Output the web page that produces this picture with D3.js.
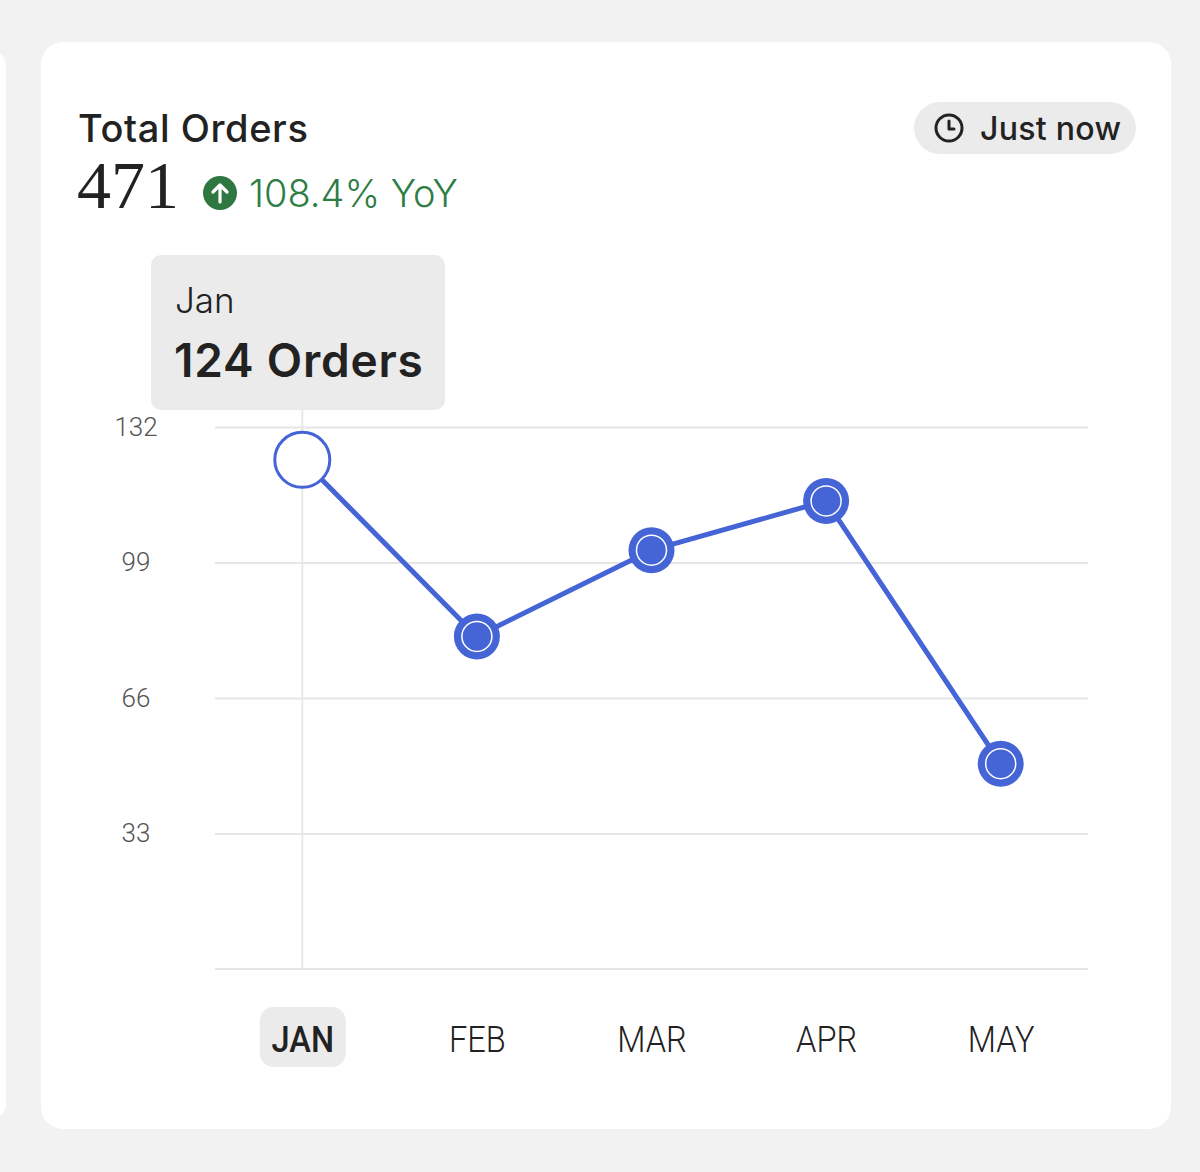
<!DOCTYPE html>
<html>
<head>
<meta charset="utf-8">
<script src="https://cdn.jsdelivr.net/npm/d3@7"></script>
<style>
  body { margin: 0; background: #f2f2f2; }
  svg { display: block; }
</style>
</head>
<body>
<div id="chart"></div>
<script>
// data
var months = ["JAN", "FEB", "MAR", "APR", "MAY"];
var monthNames = ["Jan", "Feb", "Mar", "Apr", "May"];
var orders = [124, 81, 102, 114, 50];
var yTicks = [33, 66, 99, 132];
var total = 471;
var yoy = "108.4% YoY";
var active = 0;

var w = 1200, h = 1172;
var blue = "#4564d6";

var svg = d3.select("#chart").append("svg")
  .attr("width", w)
  .attr("height", h);

// cards
svg.append("rect").attr("x", -30).attr("y", 50).attr("width", 36).attr("height", 1070)
  .attr("rx", 16).attr("fill", "#fff");
svg.append("rect").attr("x", 41).attr("y", 42).attr("width", 1130).attr("height", 1087)
  .attr("rx", 22).attr("fill", "#fff");

// header
svg.append("text").attr("x", 78).attr("y", 142)
  .attr("font-family", "Inter, Roboto, sans-serif").attr("font-weight", 500)
  .attr("font-size", 38).attr("letter-spacing", 0.6).attr("fill", "#222").text("Total Orders");
svg.append("text").attr("x", 77).attr("y", 208)
  .attr("font-family", "'Liberation Serif', 'DejaVu Serif', serif")
  .attr("font-size", 68).attr("fill", "#222").text(total);

var badge = svg.append("g").attr("transform", "translate(220,193)");
badge.append("circle").attr("r", 17).attr("fill", "#2e7740");
badge.append("path").attr("d", "M0,9V-8M-7,-1L0,-8L7,-1")
  .attr("stroke", "#fff").attr("stroke-width", 3.2).attr("fill", "none")
  .attr("stroke-linecap", "round").attr("stroke-linejoin", "round");
svg.append("text").attr("x", 249).attr("y", 207)
  .attr("font-family", "Inter, Roboto, sans-serif").attr("font-weight", 300)
  .attr("font-size", 38).attr("fill", "#2e7d45").text(yoy);

// "just now" pill
svg.append("rect").attr("x", 914).attr("y", 102).attr("width", 222).attr("height", 52)
  .attr("rx", 26).attr("fill", "#ebebeb");
var clock = svg.append("g").attr("transform", "translate(949,128)");
clock.append("circle").attr("r", 13).attr("fill", "none").attr("stroke", "#222").attr("stroke-width", 3);
clock.append("path").attr("d", "M0,-7V1H5").attr("fill", "none").attr("stroke", "#222")
  .attr("stroke-width", 3).attr("stroke-linecap", "round").attr("stroke-linejoin", "round");
svg.append("text").attr("x", 980).attr("y", 140)
  .attr("font-family", "Inter, Roboto, sans-serif").attr("font-weight", 500)
  .attr("font-size", 32).attr("letter-spacing", 0.3).attr("fill", "#222").text("Just now");

// scales
var x = d3.scalePoint().domain(months).range([215, 1088]).padding(0.5);
var y = d3.scaleLinear().domain([0, 132]).range([969, 427]);

// grid
var yAxis = d3.axisLeft(y).tickValues(yTicks).tickSize(-(1088 - 215)).tickPadding(79);
var gy = svg.append("g").attr("transform", "translate(215,0)").call(yAxis);
gy.select(".domain").remove();
gy.selectAll(".tick line").attr("stroke", "#e6e6e6").attr("stroke-width", 2);
gy.selectAll(".tick text").attr("text-anchor", "middle")
  .attr("font-family", "Roboto, sans-serif").attr("font-weight", 300)
  .attr("font-size", 26).attr("fill", "#555");

svg.append("line").attr("x1", 215).attr("x2", 1088)
  .attr("y1", y(0)).attr("y2", y(0)).attr("stroke", "#e6e6e6").attr("stroke-width", 2);

// hover guide
svg.append("line").attr("x1", x(months[active])).attr("x2", x(months[active]))
  .attr("y1", 410).attr("y2", y(0)).attr("stroke", "#e8e8e8").attr("stroke-width", 2);

// x labels
var xAxis = d3.axisBottom(x).tickSize(0).tickPadding(0);
var gx = svg.append("g").attr("transform", "translate(0,1052)").call(xAxis);
gx.select(".domain").remove();
gx.selectAll(".tick").filter(function (d, i) { return i === active; })
  .insert("rect", "text").attr("x", -43).attr("y", -45).attr("width", 86).attr("height", 60)
  .attr("rx", 14).attr("fill", "#ebebeb");
gx.selectAll(".tick text").attr("dy", 0)
  .attr("font-family", "Roboto, sans-serif")
  .attr("font-weight", function (d, i) { return i === active ? 500 : 300; })
  .attr("font-size", 37).attr("fill", "#222")
  .attr("transform", "scale(0.88,1)");

// line
var line = d3.line().x(function (d, i) { return x(months[i]); }).y(function (d) { return y(d); });
svg.append("path").datum(orders).attr("d", line)
  .attr("fill", "none").attr("stroke", blue).attr("stroke-width", 5)
  .attr("stroke-linejoin", "round");

// points
var pts = svg.selectAll(".pt").data(orders).enter().append("g")
  .attr("transform", function (d, i) { return "translate(" + x(months[i]) + "," + y(d) + ")"; });
pts.filter(function (d, i) { return i !== active; }).each(function () {
  var g = d3.select(this);
  g.append("circle").attr("r", 23).attr("fill", blue);
  g.append("circle").attr("r", 15).attr("fill", "none").attr("stroke", "#fff").attr("stroke-width", 1.5);
});
pts.filter(function (d, i) { return i === active; })
  .append("circle").attr("r", 27.5).attr("fill", "#fff").attr("stroke", blue).attr("stroke-width", 3);

// tooltip
var tip = svg.append("g");
tip.append("rect").attr("x", 151).attr("y", 255).attr("width", 294).attr("height", 155)
  .attr("rx", 10).attr("fill", "#ebebeb");
tip.append("text").attr("x", 175).attr("y", 313)
  .attr("font-family", "Inter, Roboto, sans-serif").attr("font-weight", 300)
  .attr("font-size", 35).attr("fill", "#222").text(monthNames[active]);
tip.append("text").attr("x", 174).attr("y", 377)
  .attr("font-family", "Inter, Roboto, sans-serif").attr("font-weight", 600)
  .attr("font-size", 46).attr("letter-spacing", 0.8).attr("fill", "#222").text(orders[active] + " Orders");
</script>
</body>
</html>
